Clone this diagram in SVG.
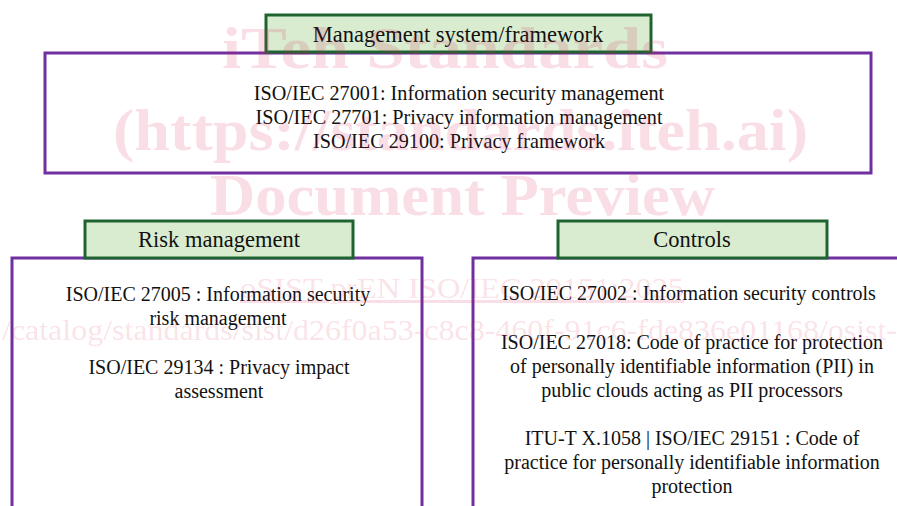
<svg xmlns="http://www.w3.org/2000/svg" width="897" height="506" viewBox="0 0 897 506">
  <style>
    .panel { fill: #ffffff; stroke: #7030a0; stroke-width: 3; }
    .tab { fill: #d9ecd0; stroke: #1f6430; stroke-width: 3; }
    .tabtxt { font-family: "Liberation Serif", "Times New Roman", serif; font-size: 22.5px; fill: #111111; text-anchor: middle; }
    .body { font-family: "Liberation Serif", "Times New Roman", serif; font-size: 20px; fill: #111111; text-anchor: middle; }
    .body-lg { font-size: 20.2px; }
    .wm { font-family: "Liberation Serif", "Times New Roman", serif; fill: #d9234f; fill-opacity: 0.15; }
    .wm-b { font-weight: bold; }
  </style>
  <rect width="897" height="506" fill="#ffffff"/>

  <!-- Management system / framework -->
  <g id="management-framework">
    <rect class="panel" x="45" y="53" width="826" height="120"/>
    <rect class="tab" x="266" y="15" width="385" height="37"/>
    <text class="tabtxt" x="458" y="42">Management system/framework</text>
    <text class="body body-lg" x="459" y="100">ISO/IEC 27001: Information security management</text>
    <text class="body body-lg" x="459" y="124">ISO/IEC 27701: Privacy information management</text>
    <text class="body body-lg" x="459" y="148">ISO/IEC 29100: Privacy framework</text>
  </g>

  <!-- Risk management -->
  <g id="risk-management">
    <rect class="panel" x="12" y="258" width="410" height="270"/>
    <rect class="tab" x="85" y="221" width="268" height="37"/>
    <text class="tabtxt" x="219" y="247">Risk management</text>
    <text class="body" x="218" y="301">ISO/IEC 27005 : Information security</text>
    <text class="body" x="218" y="325">risk management</text>
    <text class="body" x="219" y="374">ISO/IEC 29134 : Privacy impact</text>
    <text class="body" x="219" y="398">assessment</text>
  </g>

  <!-- Controls -->
  <g id="controls">
    <rect class="panel" x="473" y="258" width="440" height="270"/>
    <rect class="tab" x="558" y="221" width="269" height="37"/>
    <text class="tabtxt" x="692" y="247">Controls</text>
    <text class="body" x="689" y="300">ISO/IEC 27002 : Information security controls</text>
    <text class="body" x="692" y="349">ISO/IEC 27018: Code of practice for protection</text>
    <text class="body" x="692" y="373">of personally identifiable information (PII) in</text>
    <text class="body" x="692" y="397">public clouds acting as PII processors</text>
    <text class="body" x="692" y="445">ITU-T X.1058 | ISO/IEC 29151 : Code of</text>
    <text class="body" x="692" y="469">practice for personally identifiable information</text>
    <text class="body" x="692" y="493">protection</text>
  </g>

  <!-- No connectors between the panels -->
  <g id="connectors"/>

  <!-- Preview watermark -->
  <g id="watermark">
    <text class="wm wm-b" x="222" y="68" font-size="60" textLength="446" lengthAdjust="spacingAndGlyphs">iTeh Standards</text>
    <text class="wm wm-b" x="113" y="150" font-size="60" textLength="695" lengthAdjust="spacingAndGlyphs">(https://standards.iteh.ai)</text>
    <text class="wm wm-b" x="210" y="215" font-size="60" textLength="505" lengthAdjust="spacingAndGlyphs">Document Preview</text>
    <text class="wm" x="240" y="298" font-size="30" textLength="444" lengthAdjust="spacingAndGlyphs" text-decoration="underline">oSIST prEN ISO/IEC 29151:2025</text>
    <text class="wm" x="2" y="340" font-size="30" textLength="895" lengthAdjust="spacingAndGlyphs">/catalog/standards/sist/d26f0a53-c8c8-460f-91c6-fde836e01168/osist-</text>
  </g>
</svg>
